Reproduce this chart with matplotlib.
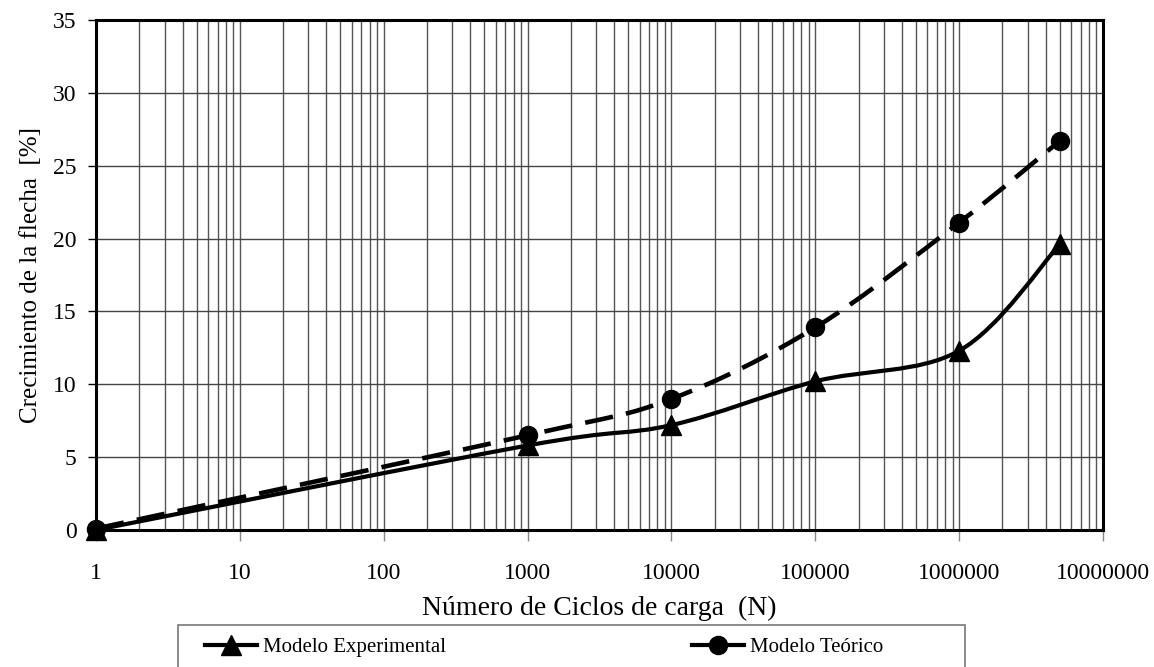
import numpy as np
import matplotlib
matplotlib.use("Agg")
import matplotlib.pyplot as plt
from matplotlib.path import Path
from matplotlib.patches import PathPatch, Rectangle
from matplotlib.lines import Line2D
from matplotlib.ticker import LogLocator, FixedLocator, NullFormatter

plt.rcParams['font.family'] = ['Liberation Serif', 'DejaVu Serif']

# ciclos de carga y crecimiento de la flecha (%)
ciclos = [1, 1000, 10000, 100000, 1000000, 5000000]
experimental = [0.0, 5.8, 7.2, 10.2, 12.3, 19.6]
teorico = [0.1, 6.5, 9.0, 13.9, 21.1, 26.7]

etiquetas_x = ['1', '10', '100', '1000', '10000', '100000', '1000000', '10000000']

fig = plt.figure(figsize=(11.54, 6.67), dpi=100)
W, H = 1154, 667
x0, x1, y0, y1 = 96, 1103, 20, 530
ax = fig.add_axes([x0 / W, 1 - y1 / H, (x1 - x0) / W, (y1 - y0) / H])

ax.set_xscale('log')
ax.set_xlim(1, 1e7)
ax.set_ylim(0, 35)


def curva_suave(xs, ys, pw, ph):
    # bezier tipo "linea suavizada" calculada en pixeles (x logaritmica)
    u = np.log10(np.array(xs, float)) / 7 * pw
    v = np.array(ys, float) / 35 * ph
    p = np.column_stack([u, v])
    n = len(p)
    verts = [p[0]]
    codes = [Path.MOVETO]
    for i in range(n - 1):
        a = p[i - 1] if i > 0 else p[i]
        b = p[i]
        c = p[i + 1]
        d = p[i + 2] if i + 2 < n else p[i + 1]
        c1 = b + (c - a) / 6
        c2 = c - (d - b) / 6
        verts += [c1, c2, c]
        codes += [Path.CURVE4] * 3
    verts = np.array(verts)
    dx = 10 ** (verts[:, 0] / pw * 7)
    dy = verts[:, 1] / ph * 35
    return Path(np.column_stack([dx, dy]), codes)


pw, ph = x1 - x0, y1 - y0
lw = 3.0
ax.add_patch(PathPatch(curva_suave(ciclos, experimental, pw, ph), fill=False,
                       edgecolor='black', lw=lw, zorder=4))
ax.add_patch(PathPatch(curva_suave(ciclos, teorico, pw, ph), fill=False,
                       edgecolor='black', lw=3.3, linestyle=(0, (6.2, 2.9)),
                       capstyle='butt', zorder=4))
ax.plot(ciclos, experimental, linestyle='none', marker='^', ms=14,
        color='black', zorder=5, clip_on=False)
ax.plot(ciclos, teorico, linestyle='none', marker='o', ms=13,
        color='black', zorder=5, clip_on=False)

# rejilla
ax.xaxis.set_major_locator(FixedLocator([10 ** k for k in range(8)]))
ax.xaxis.set_minor_locator(LogLocator(base=10, subs=np.arange(2, 10), numticks=20))
ax.xaxis.set_minor_formatter(NullFormatter())
ax.set_xticklabels(etiquetas_x)
ax.set_yticks(np.arange(0, 36, 5))
ax.grid(True, which='both', axis='x', color='#555555', lw=1)
ax.grid(True, which='major', axis='y', color='#444444', lw=1)
ax.set_axisbelow(True)

ax.tick_params(axis='x', which='major', direction='out', length=8, width=1,
               color='#888888', labelsize=17, pad=16)
ax.tick_params(axis='x', which='minor', length=0)
ax.tick_params(axis='y', direction='out', length=6, width=1,
               labelsize=17, pad=8)
for s in ax.spines.values():
    s.set_linewidth(2.2)
    s.set_color('black')

ax.set_xlabel('Número de Ciclos de carga  (N)', fontsize=20, labelpad=8)
ax.set_ylabel('Crecimiento de la flecha  [%]', fontsize=18, labelpad=8)

# marco de la leyenda
fig.patches.append(Rectangle((178 / W, -0.02), 787 / W, 1 - 625 / H + 0.02,
                             transform=fig.transFigure, fill=False,
                             edgecolor='#777777', lw=1.2))
handles = [
    Line2D([], [], color='black', lw=lw, marker='^', ms=14),
    Line2D([], [], color='black', lw=lw, marker='o', ms=13),
]
leg = fig.legend(handles, ['Modelo Experimental', 'Modelo Teórico'],
                 loc='center left', bbox_to_anchor=(205 / W, 1 - 647 / H),
                 ncol=2, fontsize=15, frameon=False, handlelength=2.5,
                 handletextpad=0.3, columnspacing=11.8, borderaxespad=0,
                 borderpad=0)

fig.savefig('out.png', dpi=100)
